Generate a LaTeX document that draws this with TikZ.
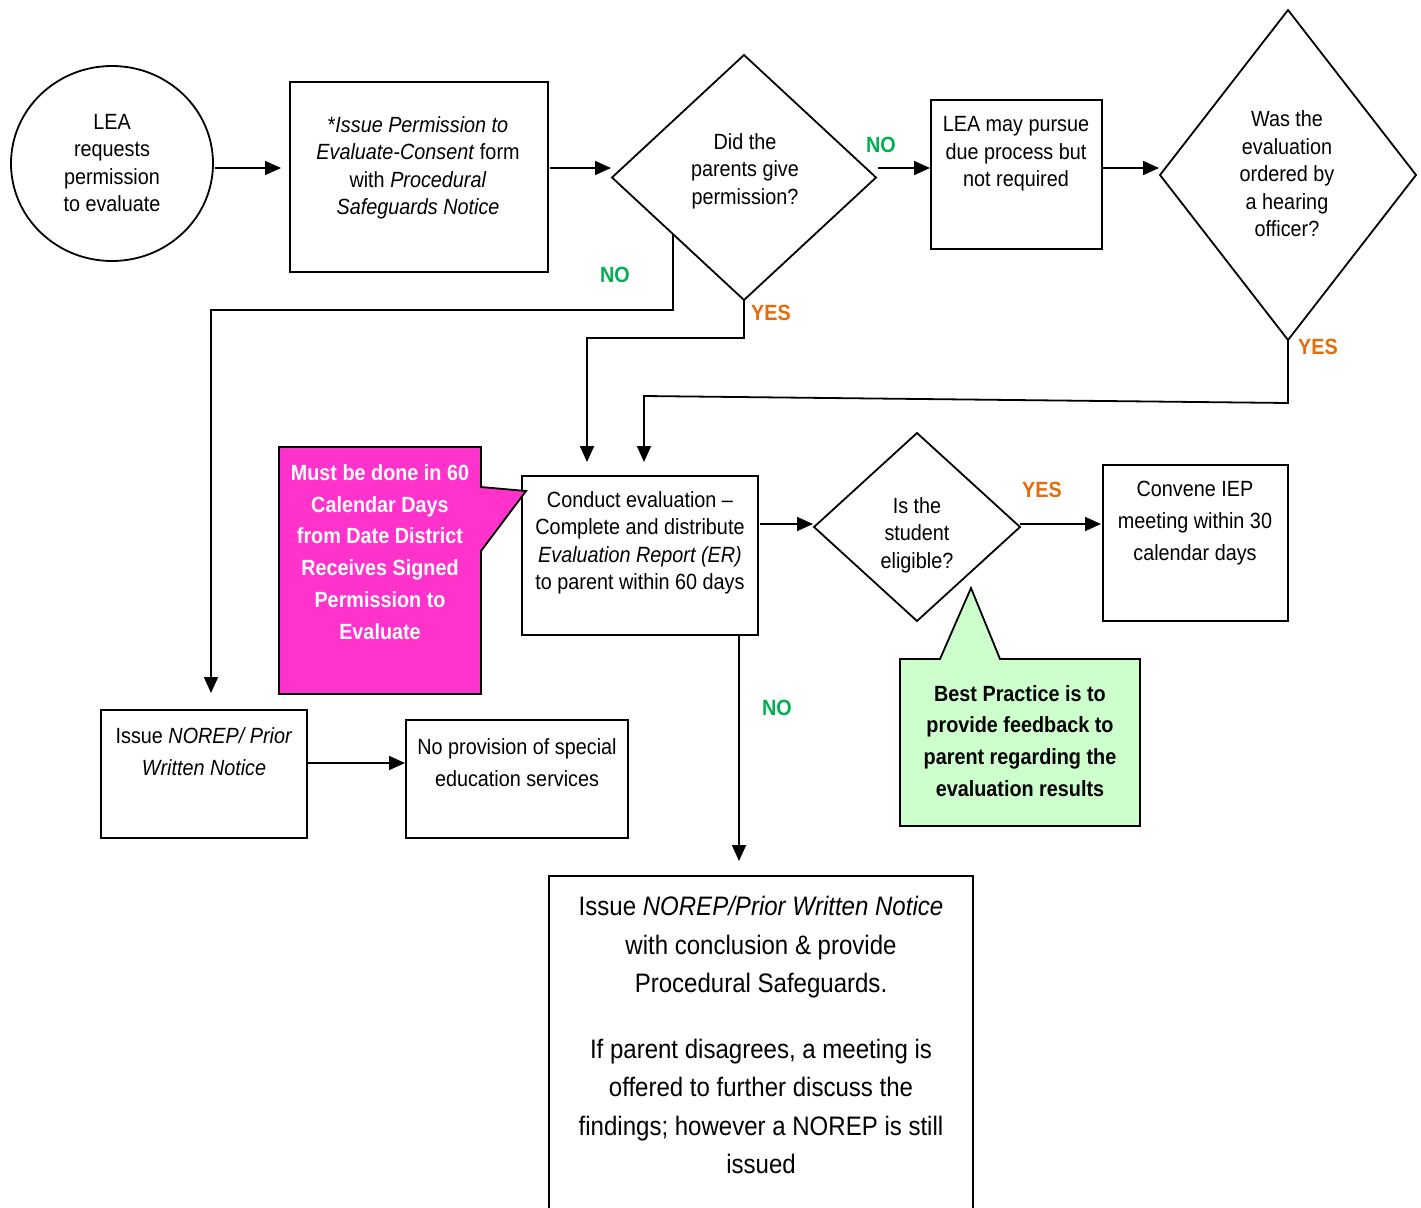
\documentclass[tikz,border=0pt]{standalone}
\usepackage{fontspec}
\setmainfont{Liberation Sans}[FakeStretch=0.9]
\usetikzlibrary{arrows.meta,shapes.geometric,calc}
\definecolor{yesorange}{RGB}{228,108,10}
\definecolor{nogreen}{RGB}{0,176,80}
\definecolor{notepink}{RGB}{255,51,204}
\definecolor{notegreen}{RGB}{204,255,204}
\begin{document}
\begin{tikzpicture}[x=1pt,y=-1pt,
  line width=1.8pt,
  stepbox/.style={draw, rectangle, inner sep=0, outer sep=0},
  decision/.style={draw, diamond, inner sep=0, outer sep=0},
  startnode/.style={draw, ellipse, inner sep=0, outer sep=0},
  txt/.style={align=center, inner sep=0, font=\fontsize{22}{27.5}\selectfont},
  txtwide/.style={align=center, inner sep=0, font=\fontsize{22}{32}\selectfont},
  bigtxt/.style={align=center, inner sep=0, font=\fontsize{26.7}{38.5}\selectfont},
  notetxt/.style={align=center, inner sep=0, font=\bfseries\fontsize{22}{31.8}\selectfont},
  lbl/.style={inner sep=0, font=\bfseries\fontsize{22}{26}\selectfont},
  arr/.style={-{Triangle[length=16pt,width=14pt]}, line width=1.8pt},
]
\clip (0,0) rectangle (1421,1207);

% ---- shapes ----
\node[startnode, minimum width=202, minimum height=195] (c1) at (112,163.5) {};
\node[stepbox, minimum width=258, minimum height=190] (b1) at (419,177) {};
\node[decision, minimum width=264, minimum height=245] (d1) at (744,177.5) {};
\node[stepbox, minimum width=171, minimum height=149] (b2) at (1016.5,174.5) {};
\node[decision, minimum width=256, minimum height=330] (d2) at (1288,175) {};
\node[stepbox, minimum width=236, minimum height=159] (ev) at (640,555.5) {};
\node[decision, minimum width=206, minimum height=188] (d3) at (917,527) {};
\node[stepbox, minimum width=185, minimum height=156] (cv) at (1195.5,543) {};
\node[stepbox, minimum width=206, minimum height=128] (ns) at (204,774) {};
\node[stepbox, minimum width=222, minimum height=118] (np) at (517,779) {};
\node[stepbox, minimum width=424, minimum height=380] (bot) at (761,1066) {};

% ---- callouts ----
\path[draw, fill=notepink] (279,447) -- (481,447) -- (481,487) -- (526,491)
  -- (481,551) -- (481,694) -- (279,694) -- cycle;
\path[draw, fill=notegreen] (900,659) -- (940,659) -- (971,588) -- (1000,659)
  -- (1140,659) -- (1140,826) -- (900,826) -- cycle;

% ---- texts ----
\node[txt] (t-c1) at (112,163) {LEA\\requests\\permission\\to evaluate};
\node[txt] (t-b1) at (418,168) {*\textit{Issue Permission to}\\\textit{Evaluate-Consent} form\\with \textit{Procedural}\\\textit{Safeguards Notice}};
\node[txt] (t-d1) at (745,171) {Did the\\parents give\\permission?};
\node[txt] (t-b2) at (1016,154) {LEA may pursue\\due process but\\not required};
\node[txt] (t-d2) at (1287,174) {Was the\\evaluation\\ordered by\\a hearing\\officer?};
\node[notetxt, text=white] (t-pk) at (380,552) {Must be done in 60\\Calendar Days\\from Date District\\Receives Signed\\Permission to\\Evaluate};
\node[txt] (t-ev) at (640,543) {Conduct evaluation --\\Complete and distribute\\\textit{Evaluation Report (ER)}\\to parent within 60 days};
\node[txt] (t-d3) at (917,535) {Is the\\student\\eligible?};
\node[txtwide] (t-cv) at (1195,523) {Convene IEP\\meeting within 30\\calendar days};
\node[notetxt] (t-gr) at (1020,741) {Best Practice is to\\provide feedback to\\parent regarding the\\evaluation results};
\node[txtwide] (t-ns) at (204,752) {Issue \textit{NOREP/ Prior}\\\textit{Written Notice}};
\node[txtwide] (t-np) at (517,763) {No provision of special\\education services};
\node[bigtxt] (t-bot) at (761,1035) {Issue \textit{NOREP/Prior Written Notice}\\with conclusion \& provide\\Procedural Safeguards.\\[27pt]If parent disagrees, a meeting is\\offered to further discuss the\\findings; however a NOREP is still\\issued};

% ---- branch labels ----
\node[lbl, text=nogreen] (no1) at (881,145) {NO};
\node[lbl, text=nogreen] (no2) at (615,275) {NO};
\node[lbl, text=yesorange] (yes1) at (771,313) {YES};
\node[lbl, text=yesorange] (yes2) at (1318,347) {YES};
\node[lbl, text=yesorange] (yes3) at (1042,490) {YES};
\node[lbl, text=nogreen] (no3) at (777,708) {NO};

% ---- bend points ----
\coordinate (k1) at (211,310);
\coordinate (k2) at (1288,403);
\coordinate (k3) at (644,396);
\coordinate (k4) at (587,338);

% ---- connectors ----
\draw[arr, shorten <=2pt, shorten >=9pt] (c1.east |- 0,168) -- (b1.west |- 0,168);
\draw[arr, shorten <=2pt, shorten >=1pt] (b1.east |- 0,168) -- (d1.west |- 0,168);
\draw[arr, shorten <=2pt, shorten >=1pt] (d1.east |- 0,168) -- (b2.west |- 0,168);
\draw[arr, shorten >=1pt] (b2.east |- 0,168) -- (d2.west |- 0,168);
\draw[arr, shorten >=14pt] (d2.south) -- (k2) -- (k3) -- (k3 |- ev.north);
\draw[arr, shorten >=14pt] (d1.south) |- (k4) -- (k4 |- ev.north);
\draw[arr, shorten >=17pt] ($(d1.west)!0.46!(d1.south)$) |- (k1) -- (k1 |- ns.north);
\draw[arr, shorten <=2pt, shorten >=1pt] (ev.east |- 0,524) -- (d3.west |- 0,524);
\draw[arr, shorten >=2pt] (d3.east |- 0,524) -- (cv.west |- 0,524);
\draw[arr, shorten >=15pt] (ev.south -| 739,0) -- (bot.north -| 739,0);
\draw[arr, shorten >=1pt] (ns.east |- 0,763) -- (np.west |- 0,763);
\end{tikzpicture}
\end{document}
